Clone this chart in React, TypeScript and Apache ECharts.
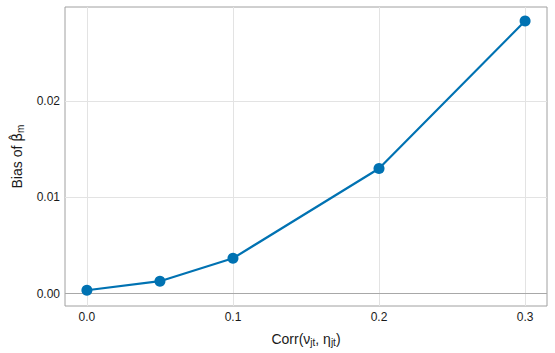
import React, { useEffect, useRef } from "react";
import * as echarts from "echarts";

const corrValues = [0.0, 0.05, 0.1, 0.2, 0.3];
const biasValues = [0.00034, 0.00128, 0.00366, 0.0130, 0.02834];
const xTicks = [0.0, 0.1, 0.2, 0.3];
const yTicks = [0.0, 0.01, 0.02];

const FONT = "Liberation Sans, Arial, Helvetica, sans-serif";

export default function App() {
  const ref = useRef<HTMLDivElement>(null);
  useEffect(() => {
    if (!ref.current) return;
    const chart = echarts.init(ref.current, null, { renderer: "svg" });
    const pts = corrValues.map((x, i) => [x, biasValues[i]]);
    const gridLines: any[] = [
      ...xTicks.map((v) => ({ xAxis: v, lineStyle: { color: "#e3e3e3", width: 1, type: "solid" } })),
      ...yTicks.filter((v) => v !== 0).map((v) => ({ yAxis: v, lineStyle: { color: "#e3e3e3", width: 1, type: "solid" } })),
      { yAxis: 0, lineStyle: { color: "#a8a8a8", width: 1, type: "solid" } },
    ];
    chart.setOption({
      animation: false,
      grid: {
        left: 65,
        top: 7,
        right: 8,
        bottom: 47,
        show: true,
        borderColor: "#a0a0a0",
        borderWidth: 1,
        backgroundColor: "transparent",
      },
      xAxis: {
        type: "value",
        min: -0.015,
        max: 0.315,
        splitLine: { show: false },
        axisLine: { show: false },
        axisTick: { show: true, customValues: xTicks, length: 3, lineStyle: { color: "#a0a0a0" } },
        axisLabel: {
          customValues: xTicks,
          formatter: (v: number) => v.toFixed(1),
          color: "#1a1a1a",
          fontFamily: FONT,
          fontSize: 12,
          margin: 5,
        },
        name: "Corr(ν{sub|jt}, η{sub|jt})",
        nameLocation: "middle",
        nameGap: 24,
        nameTextStyle: {
          color: "#1a1a1a",
          fontFamily: FONT,
          fontSize: 14,
          rich: {
            sub: { fontSize: 10, fontFamily: FONT, color: "#1a1a1a", padding: [7, 0, 0, 0] },
          },
        },
      },
      yAxis: {
        type: "value",
        min: -0.0013,
        max: 0.0298,
        splitLine: { show: false },
        axisLine: { show: false },
        axisTick: { show: true, customValues: yTicks, length: 3, lineStyle: { color: "#a0a0a0" } },
        axisLabel: {
          customValues: yTicks,
          formatter: (v: number) => v.toFixed(2),
          color: "#1a1a1a",
          fontFamily: FONT,
          fontSize: 12,
          margin: 5,
        },
        name: "Bias of {beta|β\u0302}{sub|m}",
        nameLocation: "middle",
        nameGap: 35,
        nameTextStyle: {
          color: "#1a1a1a",
          fontFamily: FONT,
          fontSize: 14,
          rich: {
            beta: { fontSize: 14, fontFamily: "DejaVu Sans", color: "#1a1a1a" },
            sub: { fontSize: 10, fontFamily: FONT, color: "#1a1a1a", padding: [7, 0, 0, 0] },
          },
        },
      },
      series: [
        {
          type: "line",
          data: pts,
          z: 1,
          showSymbol: false,
          symbol: "none",
          lineStyle: { opacity: 0, width: 0 },
          silent: true,
          markLine: {
            silent: true,
            symbol: ["none", "none"],
            label: { show: false },
            data: gridLines,
          },
        },
        {
          type: "line",
          data: pts,
          z: 5,
          symbol: "circle",
          symbolSize: 11,
          color: "#0072b2",
          itemStyle: { color: "#0072b2" },
          lineStyle: { color: "#0072b2", width: 2.2 },
        },
      ],
    });
    return () => chart.dispose();
  }, []);
  return <div ref={ref} style={{ width: 555, height: 353, position: "absolute", left: 0, top: 0, background: "#fff" }} />;
}
